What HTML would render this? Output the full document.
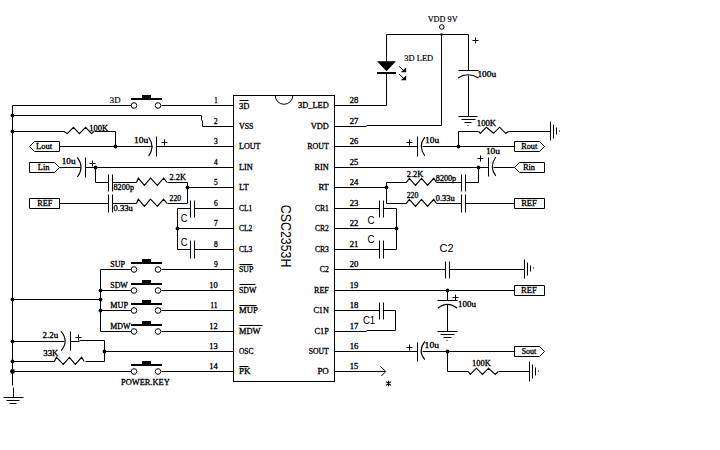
<!DOCTYPE html>
<html><head><meta charset="utf-8"><style>
html,body{margin:0;padding:0;background:#fff;}
svg{display:block;}
path,rect,circle{fill:none;stroke:#000;stroke-width:1;}
.f{fill:#000;stroke:none;}
.d{stroke-width:1.1;}
.z{stroke-width:1.15;stroke-linejoin:miter;}
text{fill:#000;stroke:none;}
.s{font-family:"Liberation Serif",serif;stroke:#000;stroke-width:0.3;}
.b{font-family:"Liberation Serif",serif;stroke:#000;stroke-width:0.3;}
.n{font-family:"Liberation Serif",serif;stroke:#000;stroke-width:0.2;}
.ss{font-family:"Liberation Sans",sans-serif;}
</style></head><body>
<svg width="720" height="450" viewBox="0 0 720 450">

<path d="M12.5 105.5V385.5"/>
<path d="M13.5 387.5V397.5"/>
<path d="M3.5 397.5H23.5"/>
<path d="M6.5 400.5H19.5"/>
<path d="M9.5 403.5H16.5"/>
<path d="M12.5 105.5H131.5"/>
<circle cx="134" cy="105.5" r="2.8"/>
<circle cx="158" cy="105.5" r="2.8"/>
<rect class="f" x="131" y="98" width="31" height="2"/>
<rect class="f" x="142" y="95" width="9" height="3"/>
<path d="M161.5 105.5H233.5"/>
<text class="n" x="109.8" y="102.7" font-size="9" textLength="10.7" lengthAdjust="spacingAndGlyphs">3D</text>
<path d="M12.5 115.5H201.5"/>
<path d="M201.5 115.5V120.5"/>
<path d="M202.5 120.5V126.5"/>
<path d="M202.5 126.5H233.5"/>
<circle class="f" cx="12.5" cy="115.5" r="1.9"/>
<circle class="f" cx="12.5" cy="131.5" r="1.9"/>
<path d="M12.5 131.5H64.5"/>
<path class="z" d="M63.9 131.5 L67.2 133.6 L73.5 127.3 L79.4 133.6 L85.6 127.3 L91.6 133.6 L93.8 131.5"/>
<path d="M94.5 131.5H115.5"/>
<path d="M115.5 131.5V146.5"/>
<circle class="f" cx="115.5" cy="146.5" r="1.9"/>
<text class="s" x="89.3" y="130.7" font-size="7.9" textLength="18.9" lengthAdjust="spacingAndGlyphs">100K</text>
<path d="M29.5 146.5 L34.5 141.5 L59.5 141.5 L59.5 151.5 L34.5 151.5Z"/>
<text class="s" x="36.1" y="148.7" font-size="7.9" textLength="16.1" lengthAdjust="spacingAndGlyphs">Lout</text>
<path d="M59.5 146.5H152.5"/>
<path class="d" d="M148.6 137.2 Q155.4 146.5 148.6 156.2"/>
<path d="M156.5 136.5V156.5"/>
<path d="M161.5 142.5H167.5"/>
<path d="M164.5 139.5V145.5"/>
<path d="M156.5 146.5H233.5"/>
<text class="s" x="134.0" y="142.9" font-size="7.9" textLength="14.2" lengthAdjust="spacingAndGlyphs">10u</text>
<path d="M29.5 162.5 L54.5 162.5 L59.5 167.5 L54.5 172.5 L29.5 172.5Z"/>
<text class="s" x="37.8" y="169.6" font-size="7.9" textLength="11.7" lengthAdjust="spacingAndGlyphs">Lin</text>
<path d="M59.5 167.5H80.5"/>
<path class="d" d="M77.3 157.3 Q84.8 167.5 77.3 177"/>
<path d="M85.5 157.5V177.5"/>
<path d="M89.5 163.5H95.5"/>
<path d="M92.5 160.5V166.5"/>
<path d="M85.5 167.5H233.5"/>
<circle class="f" cx="95.5" cy="167.5" r="1.9"/>
<text class="s" x="61.7" y="164.0" font-size="7.9" textLength="13.8" lengthAdjust="spacingAndGlyphs">10u</text>
<path d="M95.5 167.5V182.5"/>
<path d="M95.5 182.5H108.5"/>
<path d="M108.5 174.5V191.5"/>
<path d="M112.5 174.5V191.5"/>
<path d="M108.5 194.5V212.5"/>
<path d="M112.5 194.5V212.5"/>
<path d="M112.5 182.5H136.5"/>
<path class="z" d="M136.5 182.5 L138.3 178.1 L144.4 185.3 L150.5 178.1 L157.3 185.3 L163.6 178.1 L167.1 182.5"/>
<path d="M167.5 182.5H187.5"/>
<path d="M187.5 182.5V203.5"/>
<circle class="f" cx="187.5" cy="187.5" r="1.9"/>
<path d="M187.5 187.5H233.5"/>
<path d="M29.5 198.5 L59.5 198.5 L59.5 208.5 L29.5 208.5Z"/>
<text class="s" x="37.2" y="205.6" font-size="7.9" textLength="15.1" lengthAdjust="spacingAndGlyphs">REF</text>
<path d="M59.5 203.5H108.5"/>
<path d="M112.5 203.5H136.5"/>
<path class="z" d="M136.5 203.5 L138.3 199.1 L144.4 206.3 L150.5 199.1 L157.3 206.3 L163.6 199.1 L167.1 203.5"/>
<path d="M167.5 203.5H187.5"/>
<text class="s" x="113.5" y="189.6" font-size="7.9" textLength="20.5" lengthAdjust="spacingAndGlyphs">8200p</text>
<text class="s" x="113.5" y="210.5" font-size="7.9" textLength="19.3" lengthAdjust="spacingAndGlyphs">0.33u</text>
<text class="s" x="169.6" y="179.6" font-size="7.9" textLength="16.4" lengthAdjust="spacingAndGlyphs">2.2K</text>
<text class="s" x="169.6" y="200.7" font-size="7.9" textLength="11.5" lengthAdjust="spacingAndGlyphs">220</text>
<path d="M177.5 208.5H190.5"/>
<path d="M190.5 200.5V217.5"/>
<path d="M194.5 200.5V217.5"/>
<path d="M194.5 208.5H233.5"/>
<path d="M177.5 208.5V249.5"/>
<circle class="f" cx="177.5" cy="228.5" r="1.9"/>
<path d="M177.5 228.5H233.5"/>
<path d="M177.5 249.5H190.5"/>
<path d="M190.5 240.5V258.5"/>
<path d="M194.5 240.5V258.5"/>
<path d="M194.5 249.5H233.5"/>
<text class="ss" x="180.8" y="221.7" font-size="11.6" textLength="6.7" lengthAdjust="spacingAndGlyphs">C</text>
<text class="ss" x="180.8" y="245.9" font-size="11.6" textLength="6.7" lengthAdjust="spacingAndGlyphs">C</text>
<circle class="f" cx="12.5" cy="299.5" r="1.9"/>
<path d="M12.5 299.5H100.5"/>
<path d="M100.5 269.5V331.5"/>
<circle class="f" cx="100.5" cy="290.5" r="1.9"/>
<circle class="f" cx="100.5" cy="299.5" r="1.9"/>
<circle class="f" cx="100.5" cy="310.5" r="1.9"/>
<path d="M100.5 269.5H131.5"/>
<circle cx="134" cy="269.5" r="2.8"/>
<circle cx="158" cy="269.5" r="2.8"/>
<rect class="f" x="131" y="262" width="31" height="2"/>
<rect class="f" x="142" y="259" width="9" height="3"/>
<path d="M161.5 269.5H233.5"/>
<text class="s" x="110.3" y="266.7" font-size="7.9" textLength="14.7" lengthAdjust="spacingAndGlyphs">SUP</text>
<path d="M100.5 290.5H131.5"/>
<circle cx="134" cy="290.5" r="2.8"/>
<circle cx="158" cy="290.5" r="2.8"/>
<rect class="f" x="131" y="283" width="31" height="2"/>
<rect class="f" x="142" y="280" width="9" height="3"/>
<path d="M161.5 290.5H233.5"/>
<text class="s" x="110.3" y="287.7" font-size="7.9" textLength="17.5" lengthAdjust="spacingAndGlyphs">SDW</text>
<path d="M100.5 310.5H131.5"/>
<circle cx="134" cy="310.5" r="2.8"/>
<circle cx="158" cy="310.5" r="2.8"/>
<rect class="f" x="131" y="303" width="31" height="2"/>
<rect class="f" x="142" y="300" width="9" height="3"/>
<path d="M161.5 310.5H233.5"/>
<text class="s" x="110.3" y="307.7" font-size="7.9" textLength="17.7" lengthAdjust="spacingAndGlyphs">MUP</text>
<path d="M100.5 331.5H131.5"/>
<circle cx="134" cy="331.5" r="2.8"/>
<circle cx="158" cy="331.5" r="2.8"/>
<rect class="f" x="131" y="324" width="31" height="2"/>
<rect class="f" x="142" y="321" width="9" height="3"/>
<path d="M161.5 331.5H233.5"/>
<text class="s" x="110.3" y="328.7" font-size="7.9" textLength="20.2" lengthAdjust="spacingAndGlyphs">MDW</text>
<circle class="f" cx="12.5" cy="341.5" r="1.9"/>
<path d="M12.5 341.5H64.5"/>
<path class="d" d="M61.1 331.3 Q69.2 341.3 61.1 350.6"/>
<path d="M70.5 331.5V350.5"/>
<path d="M75.5 337.5H81.5"/>
<path d="M78.5 334.5V340.5"/>
<path d="M70.5 341.5H79.5"/>
<path d="M79.5 340.5H104.5"/>
<path d="M104.5 340.5V361.5"/>
<circle class="f" cx="104.5" cy="351.5" r="1.9"/>
<path d="M104.5 351.5H233.5"/>
<circle class="f" cx="12.5" cy="361.5" r="1.9"/>
<path d="M12.5 361.5H54.5"/>
<path class="z" d="M54.4 361.5 L56.4 357.3 L63.3 364.4 L69.4 357.3 L75.3 364.4 L81.6 357.3 L84.2 361.5"/>
<path d="M85.5 361.5H104.5"/>
<text class="s" x="42.6" y="338.2" font-size="7.9" textLength="15.7" lengthAdjust="spacingAndGlyphs">2.2u</text>
<text class="s" x="43.3" y="355.8" font-size="7.9" textLength="15.0" lengthAdjust="spacingAndGlyphs">33K</text>
<circle class="f" cx="12.5" cy="371.5" r="2.4"/>
<path d="M12.5 371.5H131.5"/>
<circle cx="134" cy="371.5" r="2.8"/>
<circle cx="158" cy="371.5" r="2.8"/>
<rect class="f" x="131" y="364" width="31" height="2"/>
<rect class="f" x="142" y="361" width="9" height="3"/>
<path d="M161.5 371.5H233.5"/>
<text class="s" x="121.0" y="384.9" font-size="8.5" textLength="48.7" lengthAdjust="spacingAndGlyphs">POWER.KEY</text>
<rect x="233.5" y="95.5" width="101" height="286"/>
<path d="M275.2 95.5 A8.8 8.8 0 0 0 292.8 95.5"/>
<text class="ss" transform="translate(281,204.8) rotate(90)" font-size="14.8" textLength="62.6" lengthAdjust="spacingAndGlyphs">CSC2353H</text>
<text class="b" x="239.0" y="108.8" font-size="8.0" textLength="10.4" lengthAdjust="spacingAndGlyphs">3D</text>
<path d="M239.5 100.5H248.5"/>
<text class="b" x="214.3" y="102.5" font-size="7.5" textLength="3.4" lengthAdjust="spacingAndGlyphs">1</text>
<text class="b" x="239.0" y="129.1" font-size="8.0" textLength="14.4" lengthAdjust="spacingAndGlyphs">VSS</text>
<text class="b" x="214.0" y="123.5" font-size="7.5" textLength="3.7" lengthAdjust="spacingAndGlyphs">2</text>
<text class="b" x="239.0" y="149.1" font-size="8.0" textLength="21.4" lengthAdjust="spacingAndGlyphs">LOUT</text>
<text class="b" x="214.0" y="143.5" font-size="7.5" textLength="3.7" lengthAdjust="spacingAndGlyphs">3</text>
<text class="b" x="239.0" y="170.1" font-size="8.0" textLength="13.8" lengthAdjust="spacingAndGlyphs">LIN</text>
<text class="b" x="214.0" y="164.5" font-size="7.5" textLength="3.7" lengthAdjust="spacingAndGlyphs">4</text>
<text class="b" x="239.0" y="190.1" font-size="8.0" textLength="9.6" lengthAdjust="spacingAndGlyphs">LT</text>
<text class="b" x="214.0" y="184.5" font-size="7.5" textLength="3.7" lengthAdjust="spacingAndGlyphs">5</text>
<text class="b" x="239.0" y="211.1" font-size="8.0" textLength="13.2" lengthAdjust="spacingAndGlyphs">CL1</text>
<text class="b" x="214.0" y="205.5" font-size="7.5" textLength="3.7" lengthAdjust="spacingAndGlyphs">6</text>
<text class="b" x="239.0" y="231.1" font-size="8.0" textLength="13.2" lengthAdjust="spacingAndGlyphs">CL2</text>
<text class="b" x="214.0" y="225.5" font-size="7.5" textLength="3.7" lengthAdjust="spacingAndGlyphs">7</text>
<text class="b" x="239.0" y="252.1" font-size="8.0" textLength="13.2" lengthAdjust="spacingAndGlyphs">CL3</text>
<text class="b" x="214.0" y="246.5" font-size="7.5" textLength="3.7" lengthAdjust="spacingAndGlyphs">8</text>
<text class="b" x="239.0" y="272.1" font-size="8.0" textLength="14.2" lengthAdjust="spacingAndGlyphs">SUP</text>
<path d="M239.5 264.5H252.5"/>
<text class="b" x="214.0" y="266.5" font-size="7.5" textLength="3.7" lengthAdjust="spacingAndGlyphs">9</text>
<text class="b" x="239.0" y="293.1" font-size="8.0" textLength="17.4" lengthAdjust="spacingAndGlyphs">SDW</text>
<path d="M239.5 284.5H255.5"/>
<text class="b" x="209.3" y="287.5" font-size="7.5" textLength="8.4" lengthAdjust="spacingAndGlyphs">10</text>
<text class="b" x="239.0" y="313.1" font-size="8.0" textLength="18.7" lengthAdjust="spacingAndGlyphs">MUP</text>
<path d="M239.5 305.5H256.5"/>
<text class="b" x="210.3" y="307.5" font-size="7.5" textLength="7.4" lengthAdjust="spacingAndGlyphs">11</text>
<text class="b" x="239.0" y="334.1" font-size="8.0" textLength="21.4" lengthAdjust="spacingAndGlyphs">MDW</text>
<path d="M239.5 325.5H262.5"/>
<text class="b" x="209.3" y="328.5" font-size="7.5" textLength="8.4" lengthAdjust="spacingAndGlyphs">12</text>
<text class="b" x="239.0" y="354.1" font-size="8.0" textLength="14.4" lengthAdjust="spacingAndGlyphs">OSC</text>
<text class="b" x="209.3" y="348.5" font-size="7.5" textLength="8.4" lengthAdjust="spacingAndGlyphs">13</text>
<text class="b" x="239.0" y="374.1" font-size="8.0" textLength="11.4" lengthAdjust="spacingAndGlyphs">PK</text>
<path d="M239.5 366.5H248.5"/>
<text class="b" x="209.3" y="368.5" font-size="7.5" textLength="8.4" lengthAdjust="spacingAndGlyphs">14</text>
<text class="b" x="298.0" y="108.1" font-size="8.0" textLength="30.8" lengthAdjust="spacingAndGlyphs">3D_LED</text>
<text class="b" x="349.8" y="102.5" font-size="7.5" textLength="8.6" lengthAdjust="spacingAndGlyphs">28</text>
<text class="b" x="310.8" y="129.1" font-size="8.0" textLength="18.0" lengthAdjust="spacingAndGlyphs">VDD</text>
<text class="b" x="349.8" y="123.5" font-size="7.5" textLength="8.6" lengthAdjust="spacingAndGlyphs">27</text>
<text class="b" x="307.2" y="149.1" font-size="8.0" textLength="21.6" lengthAdjust="spacingAndGlyphs">ROUT</text>
<text class="b" x="349.8" y="143.5" font-size="7.5" textLength="8.6" lengthAdjust="spacingAndGlyphs">26</text>
<text class="b" x="314.6" y="170.1" font-size="8.0" textLength="14.2" lengthAdjust="spacingAndGlyphs">RIN</text>
<text class="b" x="349.8" y="164.5" font-size="7.5" textLength="8.6" lengthAdjust="spacingAndGlyphs">25</text>
<text class="b" x="318.4" y="190.1" font-size="8.0" textLength="10.4" lengthAdjust="spacingAndGlyphs">RT</text>
<text class="b" x="349.8" y="184.5" font-size="7.5" textLength="8.6" lengthAdjust="spacingAndGlyphs">24</text>
<text class="b" x="315.0" y="211.1" font-size="8.0" textLength="13.8" lengthAdjust="spacingAndGlyphs">CR1</text>
<text class="b" x="349.8" y="205.5" font-size="7.5" textLength="8.6" lengthAdjust="spacingAndGlyphs">23</text>
<text class="b" x="315.0" y="231.1" font-size="8.0" textLength="13.8" lengthAdjust="spacingAndGlyphs">CR2</text>
<text class="b" x="349.8" y="225.5" font-size="7.5" textLength="8.6" lengthAdjust="spacingAndGlyphs">22</text>
<text class="b" x="315.0" y="252.1" font-size="8.0" textLength="13.8" lengthAdjust="spacingAndGlyphs">CR3</text>
<text class="b" x="349.8" y="246.5" font-size="7.5" textLength="8.6" lengthAdjust="spacingAndGlyphs">21</text>
<text class="b" x="319.8" y="272.1" font-size="8.0" textLength="9.0" lengthAdjust="spacingAndGlyphs">C2</text>
<text class="b" x="349.8" y="266.5" font-size="7.5" textLength="8.6" lengthAdjust="spacingAndGlyphs">20</text>
<text class="b" x="314.1" y="293.1" font-size="8.0" textLength="14.7" lengthAdjust="spacingAndGlyphs">REF</text>
<text class="b" x="349.8" y="287.5" font-size="7.5" textLength="8.6" lengthAdjust="spacingAndGlyphs">19</text>
<text class="b" x="313.4" y="313.1" font-size="8.0" textLength="15.4" lengthAdjust="spacingAndGlyphs">C1N</text>
<text class="b" x="349.8" y="307.5" font-size="7.5" textLength="8.6" lengthAdjust="spacingAndGlyphs">18</text>
<text class="b" x="314.6" y="334.1" font-size="8.0" textLength="14.2" lengthAdjust="spacingAndGlyphs">C1P</text>
<text class="b" x="349.8" y="328.5" font-size="7.5" textLength="8.6" lengthAdjust="spacingAndGlyphs">17</text>
<text class="b" x="308.8" y="354.1" font-size="8.0" textLength="20.0" lengthAdjust="spacingAndGlyphs">SOUT</text>
<text class="b" x="349.8" y="348.5" font-size="7.5" textLength="8.6" lengthAdjust="spacingAndGlyphs">16</text>
<text class="b" x="317.4" y="374.1" font-size="8.0" textLength="11.4" lengthAdjust="spacingAndGlyphs">PO</text>
<text class="b" x="349.8" y="368.5" font-size="7.5" textLength="8.6" lengthAdjust="spacingAndGlyphs">15</text>
<path d="M334.5 105.5H386.5"/>
<path d="M386.5 34.5V61.5"/>
<path class="f" d="M377 61.2 L396 61.2 L386.5 71.2Z"/>
<rect class="f" x="377" y="72" width="19" height="2"/>
<path d="M386.5 73.5V105.5"/>
<path d="M399.2 66.4 L403.5 70.4"/>
<path class="f" d="M400.8 72.2 L406.2 72.2 L406.2 67.6Z"/>
<path d="M399.2 74.2 L403.5 78.2"/>
<path class="f" d="M400.8 80.2 L406.2 80.2 L406.2 75.6Z"/>
<text class="n" x="404.3" y="61.0" font-size="8.6" textLength="28.9" lengthAdjust="spacingAndGlyphs">3D LED</text>
<path d="M386.5 34.5H468.5"/>
<circle cx="441.8" cy="27" r="2.3"/>
<text class="n" x="427.7" y="22.1" font-size="8.8" textLength="29.9" lengthAdjust="spacingAndGlyphs">VDD 9V</text>
<path d="M441.5 34.5V125.5"/>
<circle class="f" cx="441.5" cy="34.5" r="1.2"/>
<path d="M334.5 126.5H366.5"/>
<path d="M366.5 125.5H441.5"/>
<path d="M468.5 34.5V70.5"/>
<path d="M458.5 70.5H478.5"/>
<path class="d" d="M458 78 Q468 71.5 478.5 78"/>
<path d="M468.5 75.5V116.5"/>
<path d="M458.5 116.5H477.5"/>
<path d="M461.5 119.5H475.5"/>
<path d="M464.5 122.5H471.5"/>
<path d="M467.5 125.5H468.5"/>
<path d="M472.5 40.5H478.5"/>
<path d="M475.5 37.5V43.5"/>
<text class="s" x="477.4" y="77.0" font-size="7.9" textLength="18.7" lengthAdjust="spacingAndGlyphs">100u</text>
<path d="M334.5 146.5H417.5"/>
<path d="M406.5 142.5H412.5"/>
<path d="M409.5 139.5V145.5"/>
<path d="M417.5 136.5V156.5"/>
<path class="d" d="M424.8 137.2 Q417.6 146.5 424.8 155.8"/>
<path d="M422.5 146.5H514.5"/>
<circle class="f" cx="458.5" cy="146.5" r="1.9"/>
<path d="M458.5 131.5V146.5"/>
<path d="M458.5 131.5H478.5"/>
<path class="z" d="M478.7 131.5 L480.3 133.3 L486.4 127.2 L493.5 133.3 L499.6 127.2 L505.6 133.3 L508.6 131.5"/>
<path d="M508.5 131.5H550.5"/>
<path d="M550.5 121.5V140.5"/>
<path d="M553.5 124.5V138.5"/>
<path d="M556.5 127.5V134.5"/>
<path d="M559.5 130.5V131.5"/>
<text class="s" x="476.8" y="125.8" font-size="7.9" textLength="19.3" lengthAdjust="spacingAndGlyphs">100K</text>
<text class="s" x="425.1" y="143.1" font-size="7.9" textLength="14.0" lengthAdjust="spacingAndGlyphs">10u</text>
<path d="M514.5 141.5 L539.5 141.5 L544.5 146.5 L539.5 151.5 L514.5 151.5Z"/>
<text class="s" x="521.2" y="149.3" font-size="7.9" textLength="16.0" lengthAdjust="spacingAndGlyphs">Rout</text>
<path d="M334.5 167.5H488.5"/>
<circle class="f" cx="478.5" cy="167.5" r="1.9"/>
<path d="M477.5 158.5H483.5"/>
<path d="M480.5 155.5V161.5"/>
<path d="M488.5 157.5V176.5"/>
<path class="d" d="M495.8 157 Q488.8 167 495.8 175.8"/>
<path d="M493.5 167.5H514.5"/>
<path d="M514.5 167.5 L519.5 162.5 L544.5 162.5 L544.5 172.5 L519.5 172.5Z"/>
<text class="s" x="522.9" y="170.1" font-size="7.9" textLength="12.2" lengthAdjust="spacingAndGlyphs">Rin</text>
<text class="s" x="485.9" y="154.0" font-size="7.9" textLength="14.1" lengthAdjust="spacingAndGlyphs">10u</text>
<path d="M478.5 167.5V182.5"/>
<path d="M465.5 182.5H478.5"/>
<path d="M461.5 174.5V191.5"/>
<path d="M465.5 174.5V191.5"/>
<path d="M461.5 194.5V212.5"/>
<path d="M465.5 194.5V212.5"/>
<path d="M436.5 182.5H461.5"/>
<path class="z" d="M406.2 182.5 L409.4 178.3 L415.5 185.3 L421.5 178.3 L427.6 185.3 L433.7 178.3 L436.5 182.5"/>
<path d="M386.5 182.5H406.5"/>
<path d="M386.5 182.5V203.5"/>
<circle class="f" cx="386.5" cy="187.5" r="1.9"/>
<path d="M334.5 187.5H386.5"/>
<path d="M386.5 203.5H406.5"/>
<path class="z" d="M406.2 203.5 L409.4 199.3 L415.5 206.3 L421.5 199.3 L427.6 206.3 L433.7 199.3 L436.5 203.5"/>
<path d="M436.5 203.5H461.5"/>
<path d="M465.5 203.5H514.5"/>
<path d="M514.5 198.5 L544.5 198.5 L544.5 208.5 L514.5 208.5Z"/>
<text class="s" x="521.2" y="206.2" font-size="7.9" textLength="15.6" lengthAdjust="spacingAndGlyphs">REF</text>
<text class="s" x="406.7" y="176.9" font-size="7.9" textLength="16.6" lengthAdjust="spacingAndGlyphs">2.2K</text>
<text class="s" x="406.7" y="197.8" font-size="7.9" textLength="11.7" lengthAdjust="spacingAndGlyphs">220</text>
<text class="s" x="435.8" y="180.8" font-size="7.9" textLength="20.4" lengthAdjust="spacingAndGlyphs">8200p</text>
<text class="s" x="435.8" y="201.0" font-size="7.9" textLength="18.8" lengthAdjust="spacingAndGlyphs">0.33u</text>
<path d="M334.5 208.5H379.5"/>
<path d="M379.5 200.5V217.5"/>
<path d="M383.5 200.5V217.5"/>
<path d="M383.5 208.5H396.5"/>
<path d="M396.5 208.5V249.5"/>
<circle class="f" cx="396.5" cy="228.5" r="1.9"/>
<path d="M334.5 228.5H396.5"/>
<path d="M334.5 249.5H379.5"/>
<path d="M379.5 240.5V258.5"/>
<path d="M383.5 240.5V258.5"/>
<path d="M383.5 249.5H396.5"/>
<text class="ss" x="367.4" y="223.9" font-size="11.6" textLength="7.0" lengthAdjust="spacingAndGlyphs">C</text>
<text class="ss" x="367.4" y="242.6" font-size="11.6" textLength="7.0" lengthAdjust="spacingAndGlyphs">C</text>
<path d="M334.5 269.5H445.5"/>
<path d="M445.5 261.5V278.5"/>
<path d="M449.5 261.5V278.5"/>
<path d="M449.5 269.5H524.5"/>
<path d="M524.5 259.5V278.5"/>
<path d="M527.5 262.5V275.5"/>
<path d="M530.5 265.5V271.5"/>
<path d="M533.5 267.5V268.5"/>
<text class="ss" x="439.5" y="251.8" font-size="11.6" textLength="14.0" lengthAdjust="spacingAndGlyphs">C2</text>
<path d="M334.5 290.5H514.5"/>
<circle class="f" cx="447.5" cy="290.5" r="1.9"/>
<path d="M447.5 290.5V300.5"/>
<path d="M437.5 300.5H457.5"/>
<path d="M452.5 297.5H458.5"/>
<path d="M455.5 294.5V300.5"/>
<path class="d" d="M437.8 308.2 Q447.3 300.5 457.2 308.2"/>
<path d="M447.5 304.5V331.5"/>
<path d="M437.5 331.5H457.5"/>
<path d="M440.5 334.5H454.5"/>
<path d="M443.5 337.5H451.5"/>
<path d="M446.5 340.5H447.5"/>
<text class="s" x="458.0" y="306.7" font-size="7.9" textLength="17.9" lengthAdjust="spacingAndGlyphs">100u</text>
<path d="M514.5 285.5 L544.5 285.5 L544.5 295.5 L514.5 295.5Z"/>
<text class="s" x="521.1" y="292.7" font-size="7.9" textLength="15.7" lengthAdjust="spacingAndGlyphs">REF</text>
<path d="M334.5 310.5H379.5"/>
<path d="M379.5 302.5V319.5"/>
<path d="M383.5 302.5V319.5"/>
<path d="M383.5 310.5H395.5"/>
<path d="M395.5 310.5V330.5"/>
<path d="M366.5 330.5H395.5"/>
<path d="M334.5 331.5H366.5"/>
<text class="ss" x="362.9" y="323.9" font-size="11.8" textLength="12.3" lengthAdjust="spacingAndGlyphs">C1</text>
<path d="M334.5 351.5H417.5"/>
<path d="M406.5 347.5H412.5"/>
<path d="M409.5 344.5V350.5"/>
<path d="M417.5 342.5V361.5"/>
<path class="d" d="M424.9 341.4 Q417.4 351.3 424.8 359.6"/>
<path d="M422.5 351.5H514.5"/>
<circle class="f" cx="447.5" cy="351.5" r="1.9"/>
<path d="M447.5 351.5V371.5"/>
<path d="M447.5 371.5H468.5"/>
<path class="z" d="M468.2 371.5 L470.3 374.4 L476.4 368.2 L482.5 374.4 L488.5 368.2 L495.4 374.4 L498.3 371.5"/>
<path d="M498.5 371.5H529.5"/>
<path d="M529.5 361.5V381.5"/>
<path d="M532.5 364.5V378.5"/>
<path d="M535.5 367.5V375.5"/>
<path d="M538.5 370.5V371.5"/>
<path d="M514.5 346.5 L539.5 346.5 L544.5 351.5 L539.5 356.5 L514.5 356.5Z"/>
<text class="s" x="521.7" y="353.8" font-size="7.9" textLength="14.5" lengthAdjust="spacingAndGlyphs">Sout</text>
<text class="s" x="424.6" y="347.8" font-size="7.9" textLength="14.4" lengthAdjust="spacingAndGlyphs">10u</text>
<text class="s" x="472.1" y="365.6" font-size="7.9" textLength="18.7" lengthAdjust="spacingAndGlyphs">100K</text>
<path d="M334.5 371.5H385.5"/>
<path d="M380.4 366.4 L385.8 371.5 L381.3 376"/>
<path class="z" d="M388.5 380.8V386.2M386 381.6L391 385.4M386 385.4L391 381.6"/>
</svg>
</body></html>
